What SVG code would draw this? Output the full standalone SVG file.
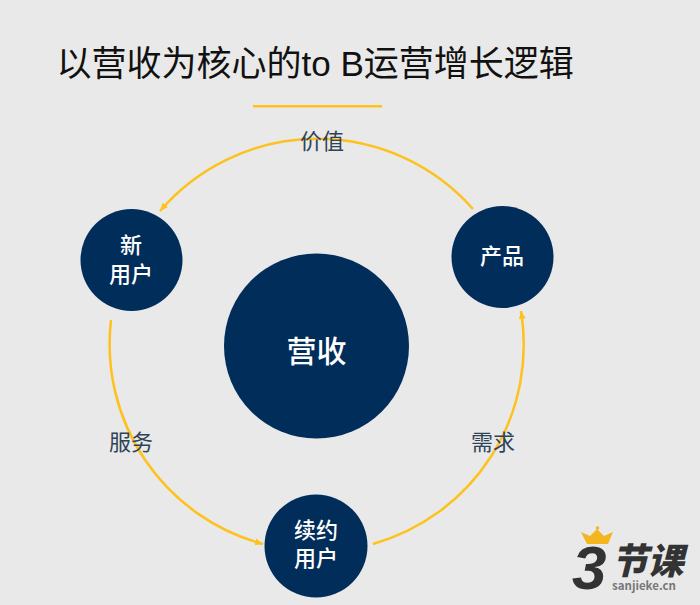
<svg xmlns="http://www.w3.org/2000/svg" width="700" height="605" viewBox="0 0 700 605">
<defs>
<style>
text{font-family:"Noto Sans CJK SC","Liberation Sans",sans-serif;text-anchor:middle}
.n{fill:#002d5a}
.w{fill:#fff;font-size:22px;font-weight:500}
.l{fill:#2f4356;font-size:22px}
.a{fill:none;stroke:#fdc21e;stroke-width:2.500}
</style>
<marker id="h" markerUnits="userSpaceOnUse" markerWidth="9" markerHeight="9" refX="8" refY="4.500" orient="auto"><path d="M0 1L8 4.500L0 8z" fill="#fdc21e"/></marker>
</defs>
<rect width="700" height="605" fill="#e9e9e9"/>
<g id="title">
<text x="56.500" y="76" font-size="35" fill="#111" style="text-anchor:start">以营收为核心的<tspan font-family="Liberation Sans">to B</tspan>运营增长逻辑</text>
<rect x="253" y="105" width="129" height="2.500" fill="#fdc21e"/>
</g>
<g id="connectors">
<path class="a" marker-end="url(#h)" d="M473 209A207.500 207.500 0 0 0 160 211"/>
<path class="a" marker-end="url(#h)" d="M111 320A207 207 0 0 0 263 544"/>
<path class="a" marker-end="url(#h)" d="M373 544A207 207 0 0 0 521 311"/>
</g>
<g id="label-value"><text class="l" x="322" y="149">价值</text></g>
<g id="label-service"><text class="l" x="131" y="450">服务</text></g>
<g id="label-demand"><text class="l" x="493" y="450">需求</text></g>
<g id="node-revenue"><circle class="n" cx="316.500" cy="346" r="92.500"/><text x="316.500" y="362" font-size="30" font-weight="500" fill="#fff">营收</text></g>
<g id="node-new"><circle class="n" cx="131.500" cy="260" r="51"/><text class="w"><tspan x="131" y="253">新</tspan><tspan x="131" y="282">用户</tspan></text></g>
<g id="node-product"><circle class="n" cx="502.500" cy="257" r="51"/><text class="w" x="502" y="264">产品</text></g>
<g id="node-renew"><circle class="n" cx="316" cy="546" r="51.500"/><text class="w"><tspan x="316" y="538">续约</tspan><tspan x="316" y="566">用户</tspan></text></g>
<g id="logo">
<path d="M581 532L590 536L597 529L604 536L613 532L608 544H587z" fill="#f3b61f"/>
<circle cx="597.500" cy="528" r="1.800" fill="#f3b61f"/>
<text x="572" y="589" font-size="62" font-weight="700" font-style="italic" fill="#333" style="text-anchor:start"><tspan font-family="Liberation Sans">3</tspan><tspan dx="5" dy="-15" font-size="36" font-weight="900">节课</tspan></text>
<text x="644" y="590" font-family="Liberation Sans" font-size="11.500" font-weight="700" fill="#777">sanjieke.cn</text>
</g>
</svg>
